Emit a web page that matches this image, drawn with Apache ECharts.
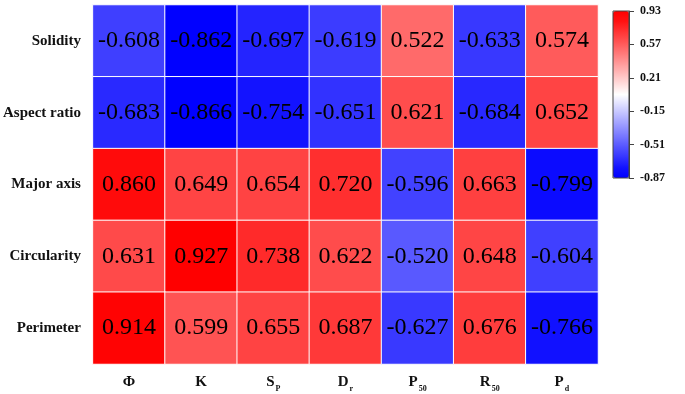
<!DOCTYPE html>
<html>
<head>
<meta charset="utf-8">
<script src="https://cdn.jsdelivr.net/npm/echarts@6/dist/echarts.min.js"></script>
<style>
html,body{margin:0;padding:0;background:#fff;}
#chart{width:685px;height:394px;}
</style>
</head>
<body>
<div id="chart"></div>
<script>
// columns (x) and rows (y, top to bottom)
var params = ['{b|Φ}', '{b|K}', '{b|S}{s|P}', '{b|D}{s|r}', '{b|P}{s|50}', '{b|R}{s|50}', '{b|P}{s|d}']
var shapes = ['Solidity', 'Aspect ratio', 'Major axis', 'Circularity', 'Perimeter']

var solidity    = [-0.608, -0.862, -0.697, -0.619, 0.522, -0.633, 0.574]
var aspectRatio = [-0.683, -0.866, -0.754, -0.651, 0.621, -0.684, 0.652]
var majorAxis   = [0.860, 0.649, 0.654, 0.720, -0.596, 0.663, -0.799]
var circularity = [0.631, 0.927, 0.738, 0.622, -0.520, 0.648, -0.604]
var perimeter   = [0.914, 0.599, 0.655, 0.687, -0.627, 0.676, -0.766]

// colour bar range and step
var barMin = -0.87
var barMax = 0.93
var barStep = 0.36

var rows = [solidity, aspectRatio, majorAxis, circularity, perimeter]
var data = []
rows.forEach(function (r, i) {
    r.forEach(function (v, j) {
        data.push([j, i, v])
    })
})

// blue - white - red, staying saturated a little longer at the ends
var ramp = []
var n = 16
for (var k = 0; k <= n; k++) {
    var t = k / n
    var d = t < 0.5 ? t * 2 : (1 - t) * 2
    var w = Math.max(0, (d - 0.06) / 0.94)
    var c = Math.round(w * 255)
    ramp.push(t < 0.5 ? 'rgb(' + c + ',' + c + ',255)' : 'rgb(255,' + c + ',' + c + ')')
}

var serif = '"Liberation Serif", "Times New Roman", serif'

var chart = echarts.init(document.getElementById('chart'))
chart.setOption({
    animation: false,
    grid: [
        { left: 92, top: 5, width: 506, height: 359 },
        { left: 613, top: 11, width: 16, height: 167, show: true, borderColor: '#444', borderWidth: 1, backgroundColor: 'transparent', z: 10 }
    ],
    xAxis: [
        {
            type: 'category',
            data: params,
            axisLine: { show: false },
            axisTick: { show: false },
            splitArea: { show: false },
            axisLabel: {
                interval: 0,
                margin: 10,
                color: '#111',
                rich: {
                    b: { fontFamily: serif, fontWeight: 'bold', fontSize: 15, verticalAlign: 'bottom', lineHeight: 16 },
                    s: { fontFamily: serif, fontWeight: 'bold', fontSize: 8, verticalAlign: 'bottom', lineHeight: 16, padding: [0, 0, -3, 1] }
                }
            }
        },
        { gridIndex: 1, type: 'value', show: false, min: 0, max: 1 }
    ],
    yAxis: [
        {
            type: 'category',
            data: shapes,
            inverse: true,
            axisLine: { show: false },
            axisTick: { show: false },
            axisLabel: {
                margin: 12,
                color: '#111',
                fontFamily: serif,
                fontWeight: 'bold',
                fontSize: 15
            }
        },
        {
            gridIndex: 1,
            type: 'value',
            position: 'right',
            min: barMin,
            max: barMax,
            interval: barStep,
            z: 20,
            splitLine: { show: false },
            axisLine: { show: true, onZero: false, lineStyle: { color: '#444', width: 1 } },
            axisTick: { show: true, inside: false, length: 5, lineStyle: { color: '#444', width: 1 } },
            axisLabel: {
                margin: 11,
                color: '#111',
                fontFamily: serif,
                fontWeight: 'bold',
                fontSize: 12,
                showMinLabel: true,
                showMaxLabel: true,
                formatter: function (v) { return v.toFixed(2) }
            }
        }
    ],
    visualMap: {
        type: 'continuous',
        seriesIndex: 0,
        min: barMin,
        max: barMax,
        calculable: false,
        left: 613,
        top: 11,
        padding: 0,
        itemWidth: 16,
        itemHeight: 167,
        text: ['', ''],
        showLabel: false,
        inRange: { color: ramp }
    },
    series: [
        {
            type: 'heatmap',
            data: data,
            itemStyle: { borderColor: '#fff', borderWidth: 1 },
            label: {
                show: true,
                color: '#000',
                fontFamily: serif,
                fontSize: 24,
                formatter: function (p) { return p.value[2].toFixed(3) }
            },
            emphasis: { disabled: true }
        }
    ]
})
</script>
</body>
</html>
